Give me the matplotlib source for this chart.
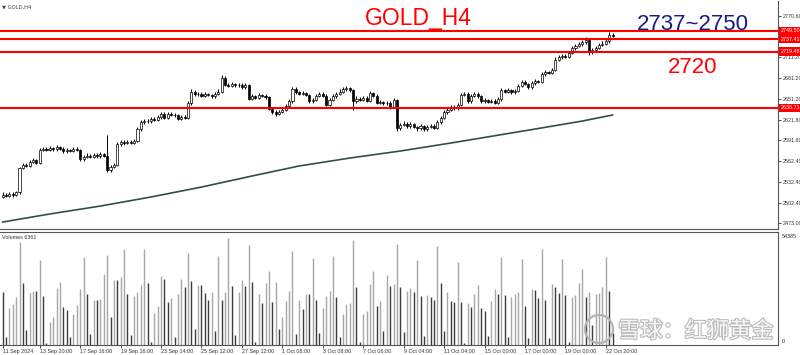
import numpy as np
import matplotlib.pyplot as plt
import matplotlib.patheffects as pe
from matplotlib.patches import Circle
from matplotlib.transforms import blended_transform_factory

# GOLD H4 candles (bar 0 = 11 Sep 2024)
first_open = 2511
closes = [2514, 2512, 2515, 2513, 2517, 2552, 2557, 2555, 2561, 2563,
          2560, 2578, 2580, 2578, 2581, 2579, 2582, 2580, 2576, 2578,
          2577, 2580, 2578, 2565, 2568, 2570, 2568, 2571, 2569, 2572,
          2570, 2549, 2554, 2557, 2586, 2589, 2588, 2590, 2588, 2591,
          2608, 2618, 2620, 2619, 2622, 2621, 2625, 2630, 2624, 2630,
          2629, 2628, 2623, 2626, 2624, 2645, 2662, 2658, 2659, 2656,
          2658, 2657, 2655, 2659, 2662, 2682, 2672, 2670, 2673, 2671,
          2672, 2668, 2671, 2652, 2655, 2653, 2657, 2656, 2654, 2637,
          2633, 2630, 2633, 2636, 2641, 2648, 2666, 2661, 2659, 2660,
          2657, 2648, 2650, 2656, 2659, 2656, 2643, 2650, 2655, 2659,
          2662, 2665, 2667, 2664, 2648, 2652, 2650, 2653, 2649, 2660,
          2656, 2646, 2647, 2645, 2646, 2640, 2650, 2609, 2614, 2616,
          2612, 2615, 2611, 2609, 2612, 2608, 2611, 2613, 2610, 2618,
          2624, 2632, 2636, 2640, 2638, 2643, 2657, 2659, 2648, 2656,
          2659, 2655, 2648, 2650, 2647, 2649, 2646, 2651, 2664, 2662,
          2664, 2661, 2663, 2670, 2676, 2673, 2668, 2674, 2677, 2676,
          2687, 2690, 2689, 2693, 2708, 2711, 2713, 2712, 2718, 2724,
          2728, 2730, 2733, 2736, 2719, 2722, 2725, 2729, 2731, 2734,
          2744, 2742]
highs = [2517, 2516, 2518, 2517, 2519, 2554, 2559, 2560, 2563, 2566,
         2565, 2581, 2583, 2582, 2584, 2583, 2585, 2584, 2583, 2581,
         2580, 2583, 2582, 2580, 2571, 2573, 2572, 2574, 2573, 2575,
         2574, 2600, 2557, 2560, 2589, 2592, 2592, 2593, 2592, 2594,
         2611, 2621, 2623, 2623, 2625, 2625, 2628, 2633, 2632, 2633,
         2632, 2631, 2630, 2629, 2628, 2648, 2665, 2664, 2662, 2661,
         2661, 2660, 2659, 2662, 2665, 2686, 2684, 2675, 2676, 2675,
         2675, 2674, 2674, 2673, 2658, 2657, 2660, 2659, 2658, 2656,
         2639, 2635, 2636, 2639, 2644, 2651, 2669, 2668, 2663, 2663,
         2662, 2659, 2653, 2659, 2662, 2661, 2658, 2653, 2658, 2662,
         2665, 2668, 2670, 2669, 2666, 2655, 2654, 2656, 2655, 2663,
         2662, 2658, 2650, 2649, 2649, 2648, 2653, 2652, 2617, 2619,
         2618, 2618, 2617, 2613, 2615, 2614, 2614, 2616, 2615, 2621,
         2627, 2635, 2639, 2643, 2642, 2646, 2660, 2662, 2661, 2659,
         2662, 2661, 2657, 2653, 2652, 2652, 2651, 2654, 2667, 2666,
         2667, 2666, 2666, 2673, 2679, 2678, 2675, 2677, 2680, 2679,
         2690, 2693, 2692, 2696, 2711, 2714, 2716, 2716, 2721, 2727,
         2731, 2733, 2736, 2740, 2738, 2725, 2728, 2732, 2734, 2737,
         2747, 2746]
lows = [2509, 2510, 2510, 2511, 2512, 2515, 2550, 2553, 2553, 2559,
        2558, 2558, 2576, 2576, 2576, 2577, 2577, 2578, 2574, 2574,
        2575, 2575, 2576, 2562, 2562, 2566, 2566, 2566, 2567, 2567,
        2568, 2546, 2547, 2552, 2555, 2584, 2585, 2586, 2586, 2586,
        2589, 2606, 2616, 2617, 2617, 2619, 2619, 2623, 2622, 2622,
        2627, 2626, 2621, 2621, 2622, 2622, 2643, 2656, 2656, 2654,
        2654, 2655, 2653, 2653, 2657, 2660, 2670, 2668, 2668, 2669,
        2669, 2666, 2666, 2650, 2650, 2651, 2651, 2654, 2652, 2635,
        2630, 2627, 2628, 2631, 2634, 2639, 2646, 2659, 2657, 2657,
        2655, 2646, 2646, 2648, 2654, 2654, 2641, 2641, 2648, 2653,
        2657, 2660, 2663, 2662, 2636, 2646, 2648, 2648, 2647, 2647,
        2654, 2644, 2644, 2643, 2643, 2637, 2638, 2606, 2607, 2612,
        2610, 2610, 2609, 2606, 2607, 2605, 2606, 2609, 2608, 2608,
        2616, 2622, 2630, 2634, 2636, 2636, 2641, 2655, 2646, 2646,
        2654, 2653, 2646, 2646, 2645, 2645, 2644, 2644, 2649, 2660,
        2660, 2659, 2659, 2661, 2668, 2671, 2666, 2666, 2672, 2674,
        2674, 2685, 2687, 2687, 2691, 2706, 2709, 2710, 2710, 2716,
        2722, 2726, 2728, 2731, 2714, 2716, 2720, 2723, 2727, 2729,
        2732, 2740]

# tick volume per bar, in thousands
volumes_k = [25.6, 4.0, 17.6, 19.7, 23.2, 49.6, 29.6, 7.2, 25.1, 25.9,
             25.9, 40.8, 23.7, 0.8, 11.2, 13.6, 27.5, 30.1, 18.4, 16.8,
             4.0, 14.7, 19.2, 26.9, 42.4, 24.5, 5.3, 21.6, 21.6, 22.1,
             34.4, 43.5, 13.4, 31.2, 31.2, 32.5, 46.4, 24.5, 4.8, 23.5,
             25.6, 28.8, 46.1, 29.8, 1.6, 15.2, 18.9, 33.1, 32.0, 20.8,
             22.7, 4.0, 24.6, 32.0, 28.0, 44.5, 30.7, 7.7, 28.8, 28.8,
             24.8, 21.6, 25.3, 6.7, 42.7, 21.6, 25.3, 51.5, 28.5, 4.8,
             25.6, 31.2, 28.5, 48.0, 30.1, 1.3, 24.5, 20.0, 29.6, 35.5,
             20.5, 30.4, 7.7, 13.6, 21.1, 26.1, 45.1, 5.1, 21.6, 17.3,
             24.5, 24.5, 41.9, 21.6, 5.9, 17.6, 23.5, 25.9, 42.7, 23.2,
             4.0, 14.7, 19.7, 20.3, 50.4, 28.0, 1.3, 14.7, 16.3, 29.3,
             35.5, 18.7, 21.1, 6.7, 33.6, 28.3, 29.3, 48.5,
             28.0, 6.4, 25.9, 27.2, 25.6, 40.8, 23.7, 4.5, 24.3, 23.2,
             21.6, 47.5, 29.6, 6.7, 25.3, 21.1, 20.5, 40.0, 20.5, 0.8,
             20.0, 18.4, 24.5, 29.1, 17.9, 16.3, 4.5, 21.1, 26.9, 24.5,
             42.2, 24.0, 4.0, 23.2, 24.5, 25.6, 41.6, 18.7, 3.2, 26.9,
             26.4, 22.7, 46.1, 21.6, 3.5, 29.4, 28.0, 24.8, 41.6, 24.3,
             1.3, 23.2, 24.0, 29.9, 36.5, 23.2, 25.3, 9.6, 24.5, 24.8,
             28.0, 42.4, 25.9, 5.6]
vol_max = 54385
vol_total = 6361

# moving average, sampled at a few bars
ma_bars = [0, 14, 29, 44, 59, 74, 88, 103, 118, 133, 158, 172, 181]
ma_vals = [2474.4, 2486.0, 2497.4, 2510.4, 2524.7, 2540.6, 2555.0, 2566.4,
           2576.5, 2588.0, 2608.1, 2619.6, 2628.3]

levels = [2749.50, 2737.41, 2719.48, 2638.71]
price_ticks = [2770.60, 2711.20, 2681.20, 2651.20, 2621.80, 2591.80,
               2562.40, 2532.40, 2502.40, 2473.00]
time_bars = [0, 11, 23, 35, 47, 59, 71, 83, 95, 107, 119, 131, 143, 155, 167, 179]
time_labels = ["11 Sep 2024", "13 Sep 20:00", "17 Sep 16:00", "19 Sep 16:00",
               "23 Sep 14:00", "25 Sep 12:00", "27 Sep 12:00", "1 Oct 08:00",
               "3 Oct 08:00", "7 Oct 06:00", "9 Oct 04:00", "11 Oct 04:00",
               "15 Oct 00:00", "17 Oct 00:00", "19 Oct 00:00", "22 Oct 20:00"]

W, H = 800, 355
SMALL = dict(family="Liberation Sans", size=3.9)
fig = plt.figure(figsize=(W / 100, H / 100), dpi=100)
fig.patch.set_facecolor("white")

def px_axes(x0, y0, x1, y1):
    return fig.add_axes([x0 / W, 1 - y1 / H, (x1 - x0) / W, (y1 - y0) / H])

ax = px_axes(0, 1, 778, 229)
axv = px_axes(0, 232, 778, 345)

n = len(closes)
x = np.arange(n)
opens = [first_open] + closes[:-1]
xlim = (-0.8, 230.1)

# candles
ax.vlines(x, lows, highs, color="black", lw=0.7, zorder=2)
body_lo = np.minimum(opens, closes)
body_h = np.abs(np.array(closes) - np.array(opens))
body_c = ["white" if c >= o else "black" for o, c in zip(opens, closes)]
ax.bar(x, body_h, bottom=body_lo, width=0.62, color=body_c,
       edgecolor="black", linewidth=0.5, zorder=3)

ax.plot(ma_bars, ma_vals, color="#2f4f4f", lw=1.2, zorder=2)

for lv in levels:
    ax.axhline(lv, color="#ff0000", lw=1.5, zorder=4)

ax.set_xlim(*xlim)
ax.set_ylim(2464.4, 2792.2)
ax.set_xticks([])
for s in ["top", "left"]:
    ax.spines[s].set_visible(False)
for s in ["right", "bottom"]:
    ax.spines[s].set_color("#555555")
    ax.spines[s].set_linewidth(0.8)
ax.yaxis.tick_right()
ax.set_yticks(price_ticks)
ax.set_yticklabels([f"{p:.2f}" for p in price_ticks], fontdict=SMALL)
ax.tick_params(axis="y", direction="out", length=2, width=0.6, pad=1.5,
               colors="#333333")

tr = blended_transform_factory(ax.transAxes, ax.transData)
for lv in levels:
    ax.text(1.004, lv, f"{lv:.2f}", transform=tr, ha="left", va="center",
            color="white", clip_on=False, zorder=6, fontdict=SMALL,
            bbox=dict(boxstyle="square,pad=0.3", fc="#ff0000", ec="none"))
ax.text(1.004, closes[-1] + 1.5, f"{closes[-1]:.2f}", transform=tr, ha="left",
        va="center", color="white", clip_on=False, zorder=5, fontdict=SMALL,
        bbox=dict(boxstyle="square,pad=0.3", fc="black", ec="none"))

ax.text(0.003, 0.985, "\u25bc GOLD,H4", transform=ax.transAxes, fontsize=3.8,
        va="top", ha="left", color="#444444")

# volumes
vol_c = ["#a8a8a8" if i > 0 and volumes_k[i] > volumes_k[i - 1] else "#3c3c3c"
         for i in range(n)]
axv.vlines(x, 0, volumes_k, colors=vol_c, lw=1.0)
axv.set_xlim(*xlim)
axv.set_ylim(0, vol_max / 1000)
axv.set_yticks([])
axv.spines["left"].set_visible(False)
for s in ["right", "bottom", "top"]:
    axv.spines[s].set_color("#555555")
    axv.spines[s].set_linewidth(0.8)
axv.set_xticks(time_bars)
axv.set_xticklabels(time_labels, ha="left", fontdict=SMALL)
axv.tick_params(axis="x", direction="out", length=2, width=0.6, pad=1,
                colors="#333333")
axv.text(1.005, 0.985, f"{vol_max}", transform=axv.transAxes, ha="left",
         va="top", color="#333333", fontdict=SMALL)
axv.text(1.005, 0.01, "0", transform=axv.transAxes, ha="left",
         va="bottom", color="#333333", fontdict=SMALL)
axv.text(0.003, 0.975, f"Volumes {vol_total}", transform=axv.transAxes,
         ha="left", va="top", color="#333333", fontdict=SMALL)

# annotations
fig.text(418 / W, 1 - 19 / H, "GOLD_H4", color="#ff0000", fontsize=16.5,
         family="Liberation Sans", ha="center", va="center")
fig.text(693 / W, 1 - 25 / H, "2737~2750", color="#1a1a80", fontsize=16,
         family="Liberation Sans", ha="center", va="center")
fig.text(693 / W, 1 - 67.5 / H, "2720", color="#ff0000", fontsize=16,
         family="Liberation Sans", ha="center", va="center")

# watermark
fig.text(618 / W, 1 - 331 / H, "雪球：红狮黄金", family=["Noto Sans CJK SC", "DejaVu Sans"],
         fontsize=16, color="white", ha="left", va="center", alpha=0.9,
         path_effects=[pe.withStroke(linewidth=1.6, foreground="#b4b4b4")])
fig.patches.append(Circle((5.99, (H - 329) / 100), 0.14, fill=False,
                          ec="#b4b4b4", lw=1.6, transform=fig.dpi_scale_trans))

fig.savefig("out.png", dpi=100)
